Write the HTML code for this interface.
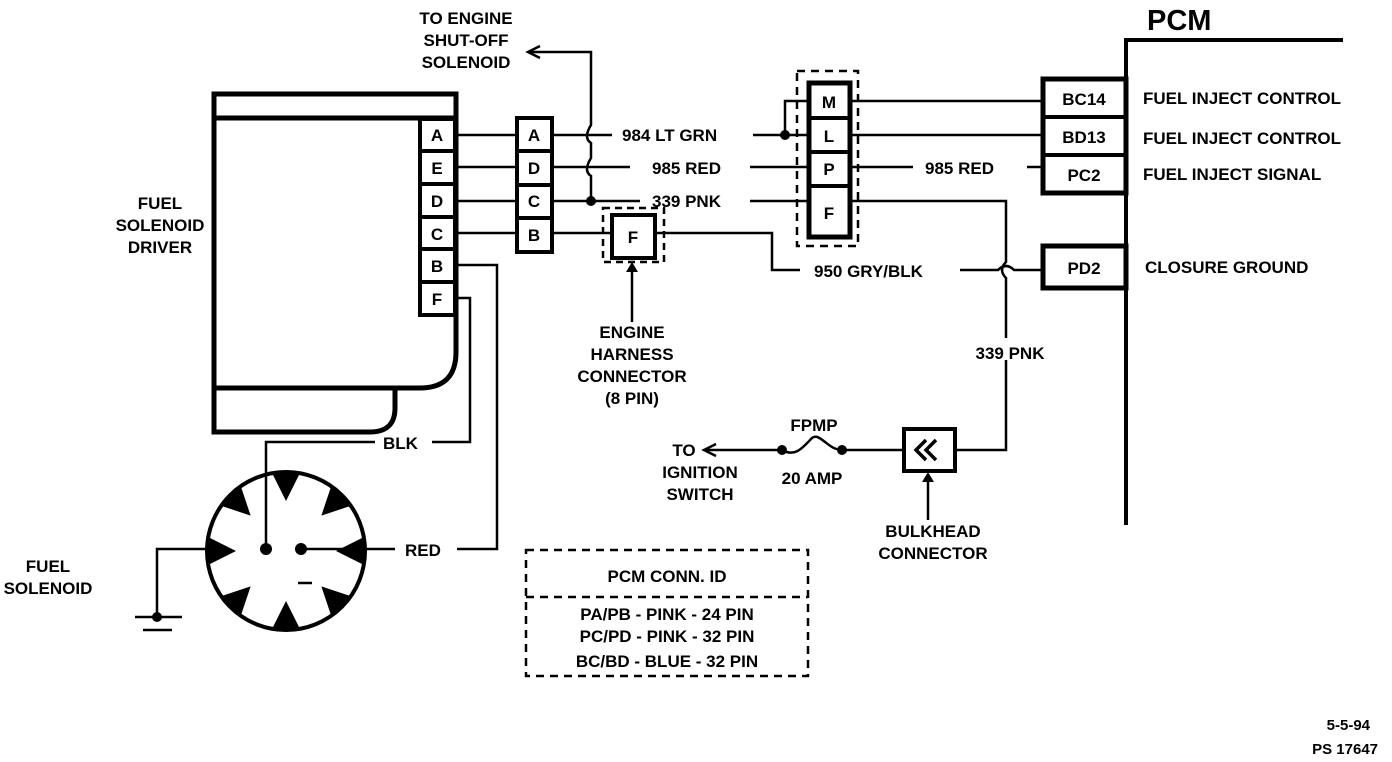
<!DOCTYPE html>
<html><head><meta charset="utf-8"><style>
html,body{margin:0;padding:0;background:#fff;}
svg{display:block;}
text{font-family:"Liberation Sans",sans-serif;font-weight:bold;fill:#000;}
</style></head><body>
<svg width="1392" height="762" viewBox="0 0 1392 762" xmlns="http://www.w3.org/2000/svg">
<g fill="none" stroke="#000" stroke-width="2.5">
<rect x="214" y="94" width="242" height="24" stroke-width="5"/>
<path d="M214 118 V388 H420 Q456 388 456 352 V118" stroke-width="5"/>
<path d="M214 388 V432 H370 Q395 432 395 408 V388" stroke-width="5"/>
<rect x="420" y="119" width="35" height="196" stroke-width="4"/>
<path d="M420 151 H455 M420 184 H455 M420 217 H455 M420 249 H455 M420 282 H455" stroke-width="4"/>
<rect x="517" y="118" width="35" height="134" stroke-width="4"/>
<path d="M517 151 H552 M517 185 H552 M517 218 H552" stroke-width="4"/>
<path d="M456 135 H517 M456 167 H517 M456 201 H517 M456 233 H517"/>
<path d="M552 135 H612 M753 135 H785 H808"/>
<path d="M785 135 V101 H808"/>
<path d="M552 167 H630 M750 167 H808"/>
<path d="M552 201 H640 M750 201 H808"/>
<path d="M552 233 H612"/>
<path d="M591 201 V176 q-8 -5 0 -18 V143 q-8 -5 0 -18 V52 H530"/>
<path d="M540 46 L528 52 L540 58"/>
<rect x="612" y="215" width="43" height="43" stroke-width="4"/>
<rect x="603" y="208" width="61" height="54" stroke-dasharray="7,5" stroke-width="2.5"/>
<path d="M632 322 V268"/>
<path d="M655 233 H772 V270 H800 M960 270 H998 q8 -8 16 0 H1042"/>
<rect x="809" y="83" width="41" height="154" stroke-width="5"/>
<path d="M809 118 H850 M809 152 H850 M809 186 H850" stroke-width="4"/>
<rect x="797" y="71" width="61" height="175" stroke-dasharray="8,6" stroke-width="2.5"/>
<path d="M850 101 H1042 M850 135 H1042 M850 167 H913 M1027 167 H1042"/>
<path d="M850 201 H1006 V262 q-8 8 0 16 V450 H955"/>
<path d="M1126 525 V40 H1343" stroke-width="4"/>
<rect x="1043" y="79" width="83" height="114" stroke-width="5"/>
<path d="M1043 117 H1126 M1043 155 H1126" stroke-width="4"/>
<rect x="1043" y="246" width="83" height="42" stroke-width="5"/>
<rect x="904" y="429" width="51" height="42" stroke-width="4"/>
<path d="M926 440 L916 450 L926 460 M936 440 L926 450 L936 460" stroke-width="3.5"/>
<path d="M904 450 H842"/>
<path d="M842 450 C828 450 820 432 812 438 C804 446 796 458 782 450"/>
<path d="M782 450 H705"/>
<path d="M716 444 L704 450 L716 456"/>
<path d="M928 520 V478"/>
<circle cx="286" cy="551" r="79" stroke-width="4"/>
<path d="M266 549 V442 H375 M432 442 H470 V298 H456"/>
<path d="M301 549 H395 M457 549 H497 V265 H456"/>
<path d="M207 549 H157 V617"/>
<path d="M135 617 H182 M143 630 H172"/>
<path d="M298 583 H312"/>
<rect x="526" y="550" width="282" height="126" stroke-dasharray="8,6"/>
<path d="M526 597 H808" stroke-dasharray="8,6"/>
</g>
<rect x="966" y="338" width="88" height="22" fill="#fff"/>
<g fill="#000">
<circle cx="785" cy="135" r="5"/><circle cx="591" cy="201" r="5"/>
<circle cx="842" cy="450" r="5"/><circle cx="782" cy="450" r="5"/>
<circle cx="266" cy="549" r="6"/><circle cx="301" cy="549" r="6"/><circle cx="157" cy="617" r="5"/>
<path d="M626 272 L632 262 L638 272 Z M922 482 L928 472 L934 482 Z"/>
<g transform="translate(286 551)">
<path id="tri" d="M-14 -78 L14 -78 L0 -50 Z"/>
<use href="#tri" transform="rotate(45)"/><use href="#tri" transform="rotate(90)"/>
<use href="#tri" transform="rotate(135)"/><use href="#tri" transform="rotate(180)"/>
<use href="#tri" transform="rotate(225)"/><use href="#tri" transform="rotate(270)"/>
<use href="#tri" transform="rotate(315)"/>
</g>
</g>
<g font-size="17" text-anchor="middle">
<text x="437" y="141">A</text><text x="437" y="174">E</text><text x="437" y="207">D</text>
<text x="437" y="240">C</text><text x="437" y="272">B</text><text x="437" y="305">F</text>
<text x="534" y="141">A</text><text x="534" y="174">D</text><text x="534" y="207">C</text><text x="534" y="241">B</text>
<text x="829" y="108">M</text><text x="829" y="142">L</text><text x="829" y="175">P</text><text x="829" y="219">F</text>
<text x="633" y="243">F</text>
<text x="1084" y="105">BC14</text><text x="1084" y="143">BD13</text><text x="1084" y="181">PC2</text><text x="1084" y="274">PD2</text>
<text x="466" y="24">TO ENGINE</text><text x="466" y="46">SHUT-OFF</text><text x="466" y="68">SOLENOID</text>
<text x="160" y="209">FUEL</text><text x="160" y="231">SOLENOID</text><text x="160" y="253">DRIVER</text>
<text x="48" y="572">FUEL</text><text x="48" y="594">SOLENOID</text>
<text x="632" y="338">ENGINE</text><text x="632" y="360">HARNESS</text><text x="632" y="382">CONNECTOR</text><text x="632" y="404">(8 PIN)</text>
<text x="684" y="456">TO</text><text x="700" y="478">IGNITION</text><text x="700" y="500">SWITCH</text>
<text x="814" y="431">FPMP</text><text x="812" y="484">20 AMP</text>
<text x="933" y="537">BULKHEAD</text><text x="933" y="559">CONNECTOR</text>
<text x="1010" y="359">339 PNK</text>
<text x="667" y="582">PCM CONN. ID</text>
<text x="667" y="620">PA/PB - PINK - 24 PIN</text>
<text x="667" y="642">PC/PD - PINK - 32 PIN</text>
<text x="667" y="667">BC/BD - BLUE - 32 PIN</text>
</g>
<g font-size="17">
<text x="622" y="141">984 LT GRN</text><text x="652" y="174">985 RED</text><text x="652" y="207">339 PNK</text>
<text x="925" y="174">985 RED</text><text x="814" y="277">950 GRY/BLK</text>
<text x="383" y="449">BLK</text><text x="405" y="556">RED</text>
<text x="1143" y="104">FUEL INJECT CONTROL</text><text x="1143" y="144">FUEL INJECT CONTROL</text>
<text x="1143" y="180">FUEL INJECT SIGNAL</text><text x="1145" y="273">CLOSURE GROUND</text>
<text x="1147" y="30" font-size="29">PCM</text>
</g>
<g font-size="15" text-anchor="end">
<text x="1370" y="730">5-5-94</text><text x="1378" y="754">PS 17647</text>
</g>
</svg>
</body></html>
